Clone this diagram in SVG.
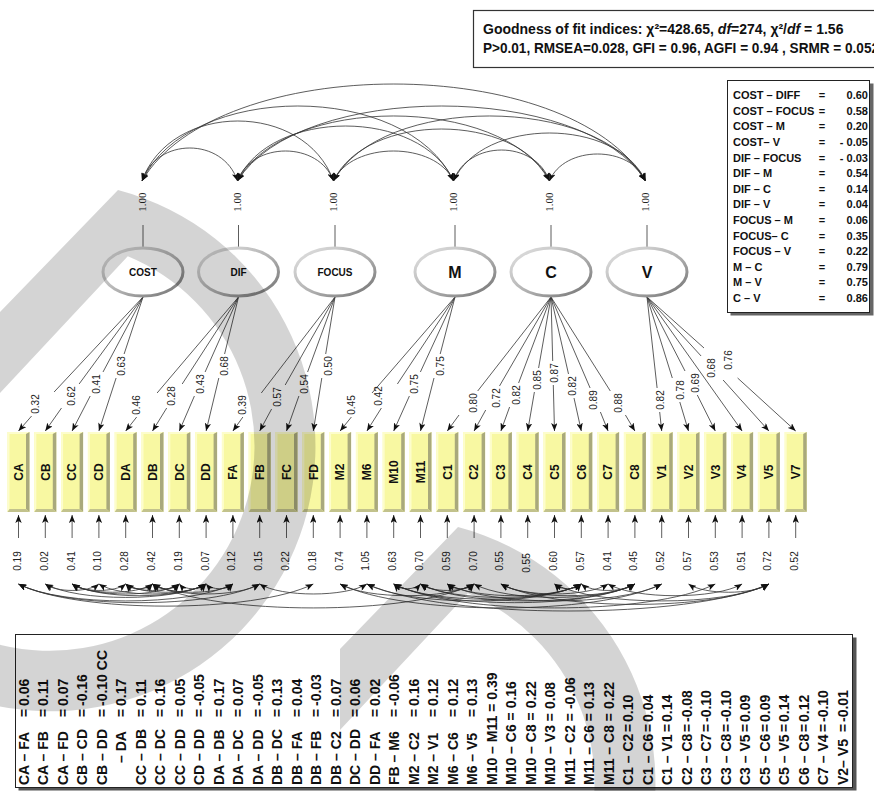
<svg xmlns="http://www.w3.org/2000/svg" xmlns:xlink="http://www.w3.org/1999/xlink" width="874" height="791" viewBox="0 0 874 791">
<style>
.ln{stroke:#333;stroke-width:0.8;fill:none}
.ar{marker-end:url(#ah)}
.dbl{marker-start:url(#ah);marker-end:url(#ah)}
.num{font-family:"Liberation Sans",Arial,sans-serif;font-size:10px;fill:#222;text-anchor:middle}
.var{font-family:"Liberation Serif","Times New Roman",serif;font-size:11px;fill:#222;text-anchor:middle}
.ell{fill:#fff;stroke:url(#eg);stroke-width:3}
.fl{font-family:"Liberation Sans",Arial,sans-serif;font-weight:bold;font-size:10px;text-anchor:middle;fill:#111}
.fl2{font-size:16px}
.bl{font-family:"Liberation Sans",Arial,sans-serif;font-weight:bold;font-size:12px;text-anchor:middle;fill:#111}
.tb{font-family:"Liberation Sans",Arial,sans-serif;font-weight:bold;font-size:11px;fill:#111}
.bt{font-family:"Liberation Sans",Arial,sans-serif;font-weight:bold;font-size:14px;fill:#111}
.gof{font-family:"Liberation Sans",Arial,sans-serif;font-weight:600;font-size:14px;fill:#111}
</style>
<defs>
<marker id="ah" viewBox="0 0 10 8" refX="10" refY="4" markerWidth="8" markerHeight="6.4" markerUnits="userSpaceOnUse" orient="auto-start-reverse">
<path d="M0,0 L10,4 L0,8 L2.5,4 z" fill="#111"/>
</marker>
<linearGradient id="eg" x1="0" y1="0" x2="1" y2="1">
<stop offset="0" stop-color="#e4e4e4"/>
<stop offset="0.55" stop-color="#b0b0b0"/>
<stop offset="1" stop-color="#707070"/>
</linearGradient>
<g id="bx">
<rect width="22" height="80" fill="#f8f8a2"/>
<polygon points="0,0 22,0 18.5,2 2,2 2,77 0,80" fill="#fdfdcc"/>
<polygon points="18.5,2 22,0 22,80 18.5,77" fill="#a9a97c"/>
<polygon points="0,80 2,77 18.5,77 22,80" fill="#c2c28c"/>
</g>
</defs>
<rect width="874" height="791" fill="#fff"/>

<g id="fit-box">
<rect x="473.5" y="10.5" width="420" height="57" fill="#fff" stroke="#333" stroke-width="1.2"/>
<text class="gof" x="483" y="34">Goodness of fit indices: χ²=428.65, <tspan font-style="italic">df</tspan>=274, χ²/<tspan font-style="italic">df</tspan> = 1.56</text>
<text class="gof" x="483" y="53" textLength="396" lengthAdjust="spacingAndGlyphs">P&gt;0.01, RMSEA=0.028, GFI = 0.96, AGFI = 0.94 , SRMR = 0.052</text>
</g>

<g id="factor-corr-table">
<rect x="730.5" y="83.5" width="143" height="232" fill="#666"/>
<rect x="727.5" y="80.5" width="142" height="232" fill="#fff" stroke="#222"/>
<text class="tb" y="99"><tspan x="733">COST – DIFF</tspan><tspan x="822" text-anchor="middle">=</tspan><tspan x="868" text-anchor="end">0.60</tspan></text>
<text class="tb" y="114.6"><tspan x="733">COST – FOCUS</tspan><tspan x="822" text-anchor="middle">=</tspan><tspan x="868" text-anchor="end">0.58</tspan></text>
<text class="tb" y="130.2"><tspan x="733">COST – M</tspan><tspan x="822" text-anchor="middle">=</tspan><tspan x="868" text-anchor="end">0.20</tspan></text>
<text class="tb" y="145.9"><tspan x="733">COST– V</tspan><tspan x="822" text-anchor="middle">=</tspan><tspan x="868" text-anchor="end">- 0.05</tspan></text>
<text class="tb" y="161.5"><tspan x="733">DIF – FOCUS</tspan><tspan x="822" text-anchor="middle">=</tspan><tspan x="868" text-anchor="end">- 0.03</tspan></text>
<text class="tb" y="177.1"><tspan x="733">DIF – M</tspan><tspan x="822" text-anchor="middle">=</tspan><tspan x="868" text-anchor="end">0.54</tspan></text>
<text class="tb" y="192.7"><tspan x="733">DIF – C</tspan><tspan x="822" text-anchor="middle">=</tspan><tspan x="868" text-anchor="end">0.14</tspan></text>
<text class="tb" y="208.3"><tspan x="733">DIF – V</tspan><tspan x="822" text-anchor="middle">=</tspan><tspan x="868" text-anchor="end">0.04</tspan></text>
<text class="tb" y="224"><tspan x="733">FOCUS – M</tspan><tspan x="822" text-anchor="middle">=</tspan><tspan x="868" text-anchor="end">0.06</tspan></text>
<text class="tb" y="239.6"><tspan x="733">FOCUS– C</tspan><tspan x="822" text-anchor="middle">=</tspan><tspan x="868" text-anchor="end">0.35</tspan></text>
<text class="tb" y="255.2"><tspan x="733">FOCUS – V</tspan><tspan x="822" text-anchor="middle">=</tspan><tspan x="868" text-anchor="end">0.22</tspan></text>
<text class="tb" y="270.8"><tspan x="733">M – C</tspan><tspan x="822" text-anchor="middle">=</tspan><tspan x="868" text-anchor="end">0.79</tspan></text>
<text class="tb" y="286.4"><tspan x="733">M – V</tspan><tspan x="822" text-anchor="middle">=</tspan><tspan x="868" text-anchor="end">0.75</tspan></text>
<text class="tb" y="302.1"><tspan x="733">C – V</tspan><tspan x="822" text-anchor="middle">=</tspan><tspan x="868" text-anchor="end">0.86</tspan></text>
</g>

<g id="connectors">
<!-- factor covariances -->
<path class="ln dbl" d="M142,181 C156.3,137 223.2,137 237.5,181"/>
<path class="ln dbl" d="M142,181 C170.7,101 304.8,101 333.5,181"/>
<path class="ln dbl" d="M142,181 C188.7,81 406.8,81 453.5,181"/>
<path class="ln dbl" d="M142,181 C217.5,51.7 570,51.7 645.5,181"/>
<path class="ln dbl" d="M237.5,181 C251.9,141 319.1,141 333.5,181"/>
<path class="ln dbl" d="M237.5,181 C269.9,107.7 421.1,107.7 453.5,181"/>
<path class="ln dbl" d="M237.5,181 C284.3,94.3 502.7,94.3 549.5,181"/>
<path class="ln dbl" d="M237.5,181 C298.7,81 584.3,81 645.5,181"/>
<path class="ln dbl" d="M333.5,181 C351.5,141 435.5,141 453.5,181"/>
<path class="ln dbl" d="M333.5,181 C365.9,111.7 517.1,111.7 549.5,181"/>
<path class="ln dbl" d="M333.5,181 C380.3,94.3 598.7,94.3 645.5,181"/>
<path class="ln dbl" d="M453.5,181 C467.9,139.7 535.1,139.7 549.5,181"/>
<path class="ln dbl" d="M453.5,181 C482.3,117 616.7,117 645.5,181"/>
<path class="ln dbl" d="M549.5,181 C563.9,145 631.1,145 645.5,181"/>
<!-- loadings -->
<path class="ln" d="M143,297 L54.1,392"/><path class="ln ar" d="M31.6,416 L18.5,431"/>
<path class="ln" d="M143,297 L79.1,384"/><path class="ln ar" d="M61.5,408 L45.3,431"/>
<path class="ln" d="M143,297 L103,372"/><path class="ln ar" d="M90.2,396 L72.1,431"/>
<path class="ln" d="M143,297 L124.1,354"/><path class="ln ar" d="M116.1,378 L98.9,431"/>
<path class="ln" d="M238.5,297 L157.1,393"/><path class="ln ar" d="M136.7,417 L125.7,431"/>
<path class="ln" d="M238.5,297 L182.2,384"/><path class="ln ar" d="M166.7,408 L152.5,431"/>
<path class="ln" d="M238.5,297 L205.1,372"/><path class="ln ar" d="M194.4,396 L179.3,431"/>
<path class="ln" d="M238.5,297 L224.6,354"/><path class="ln ar" d="M218.8,378 L206.1,431"/>
<path class="ln" d="M335,297 L261.3,393"/><path class="ln ar" d="M242.9,417 L232.9,431"/>
<path class="ln" d="M335,297 L285.2,385"/><path class="ln ar" d="M271.6,409 L259.7,431"/>
<path class="ln" d="M335,297 L307.6,372"/><path class="ln ar" d="M298.9,396 L286.5,431"/>
<path class="ln" d="M335,297 L325.7,354"/><path class="ln ar" d="M321.8,378 L313.3,431"/>
<path class="ln" d="M455,297 L372,393"/><path class="ln ar" d="M351.4,417 L340.1,431"/>
<path class="ln" d="M455,297 L397.4,384"/><path class="ln ar" d="M381.4,408 L366.9,431"/>
<path class="ln" d="M455,297 L420.4,372"/><path class="ln ar" d="M409.4,396 L393.7,431"/>
<path class="ln" d="M455,297 L440.2,354"/><path class="ln ar" d="M434,378 L420.5,431"/>
<path class="ln" d="M551,297 L477.7,391"/><path class="ln ar" d="M459,415 L447.3,431"/>
<path class="ln" d="M551,297 L499.5,386"/><path class="ln ar" d="M485.7,410 L474.1,431"/>
<path class="ln" d="M551,297 L518.6,383"/><path class="ln ar" d="M509.6,407 L500.9,431"/>
<path class="ln" d="M551,297 L538.6,368"/><path class="ln ar" d="M534.4,392 L527.7,431"/>
<path class="ln" d="M551,297 L552.7,361"/><path class="ln ar" d="M553.3,385 L554.5,431"/>
<path class="ln" d="M551,297 L568.5,374"/><path class="ln ar" d="M574,398 L581.3,431"/>
<path class="ln" d="M551,297 L590.1,388"/><path class="ln ar" d="M600.4,412 L608.1,431"/>
<path class="ln" d="M551,297 L610.3,391"/><path class="ln ar" d="M625.4,415 L634.9,431"/>
<path class="ln" d="M647,297 L657.1,388"/><path class="ln ar" d="M659.7,412 L661.7,431"/>
<path class="ln" d="M647,297 L672.3,378"/><path class="ln ar" d="M679.8,402 L688.5,431"/>
<path class="ln" d="M647,297 L685,371"/><path class="ln ar" d="M697.3,395 L715.3,431"/>
<path class="ln ar" d="M647,297 L742.1,431"/>
<path class="ln" d="M647,297 L701.1,356"/><path class="ln ar" d="M723.1,380 L768.9,431"/>
<path class="ln" d="M647,297 L704,348"/><path class="ln ar" d="M737.6,378 L795.7,431"/>
<!-- error arrows -->
<path class="ln ar" d="M18.5,538V515"/><path class="ln ar" d="M45.3,538V515"/><path class="ln ar" d="M72.1,538V515"/><path class="ln ar" d="M98.9,538V515"/>
<path class="ln ar" d="M125.7,538V515"/><path class="ln ar" d="M152.5,538V515"/><path class="ln ar" d="M179.3,538V515"/><path class="ln ar" d="M206.1,538V515"/>
<path class="ln ar" d="M232.9,538V515"/><path class="ln ar" d="M259.7,538V515"/><path class="ln ar" d="M286.5,538V515"/><path class="ln ar" d="M313.3,538V515"/>
<path class="ln ar" d="M340.1,538V515"/><path class="ln ar" d="M366.9,538V515"/><path class="ln ar" d="M393.7,538V515"/><path class="ln ar" d="M420.5,538V515"/>
<path class="ln ar" d="M447.3,538V515"/><path class="ln ar" d="M474.1,538V515"/><path class="ln ar" d="M500.9,538V515"/><path class="ln ar" d="M527.7,538V515"/>
<path class="ln ar" d="M554.5,538V515"/><path class="ln ar" d="M581.3,538V515"/><path class="ln ar" d="M608.1,538V515"/><path class="ln ar" d="M634.9,538V515"/>
<path class="ln ar" d="M661.7,538V515"/><path class="ln ar" d="M688.5,538V515"/><path class="ln ar" d="M715.3,538V515"/><path class="ln ar" d="M742.1,538V515"/>
<path class="ln ar" d="M768.9,538V515"/><path class="ln ar" d="M795.7,538V515"/>
<!-- error covariances -->
<path class="ln dbl" d="M18.5,584 C61.4,606.6 190,606.6 232.9,584"/>
<path class="ln dbl" d="M18.5,584 C66.7,608.9 211.5,608.9 259.7,584"/>
<path class="ln dbl" d="M18.5,584 C77.5,613.5 254.3,613.5 313.3,584"/>
<path class="ln dbl" d="M45.3,584 C56,592.6 88.2,592.6 98.9,584"/>
<path class="ln dbl" d="M45.3,584 C77.5,601.9 173.9,601.9 206.1,584"/>
<path class="ln dbl" d="M72.1,584 C82.8,592.6 115,592.6 125.7,584"/>
<path class="ln dbl" d="M72.1,584 C88.2,595 136.4,595 152.5,584"/>
<path class="ln dbl" d="M72.1,584 C93.5,597.3 157.9,597.3 179.3,584"/>
<path class="ln dbl" d="M72.1,584 C98.9,599.6 179.3,599.6 206.1,584"/>
<path class="ln dbl" d="M98.9,584 C120.3,597.3 184.7,597.3 206.1,584"/>
<path class="ln dbl" d="M125.7,584 C131.1,590.3 147.1,590.3 152.5,584"/>
<path class="ln dbl" d="M125.7,584 C136.4,592.6 168.6,592.6 179.3,584"/>
<path class="ln dbl" d="M125.7,584 C141.8,595 190,595 206.1,584"/>
<path class="ln dbl" d="M152.5,584 C157.9,590.3 173.9,590.3 179.3,584"/>
<path class="ln dbl" d="M152.5,584 C168.6,595 216.8,595 232.9,584"/>
<path class="ln dbl" d="M152.5,584 C173.9,597.3 238.3,597.3 259.7,584"/>
<path class="ln dbl" d="M152.5,584 C216.8,615.9 409.8,615.9 474.1,584"/>
<path class="ln dbl" d="M179.3,584 C184.7,590.3 200.7,590.3 206.1,584"/>
<path class="ln dbl" d="M206.1,584 C211.5,590.3 227.5,590.3 232.9,584"/>
<path class="ln dbl" d="M259.7,584 C281.1,597.3 345.5,597.3 366.9,584"/>
<path class="ln dbl" d="M340.1,584 C366.9,599.6 447.3,599.6 474.1,584"/>
<path class="ln dbl" d="M340.1,584 C404.4,615.9 597.4,615.9 661.7,584"/>
<path class="ln dbl" d="M366.9,584 C409.8,606.6 538.4,606.6 581.3,584"/>
<path class="ln dbl" d="M366.9,584 C447.3,620 688.5,620 768.9,584"/>
<path class="ln dbl" d="M393.7,584 C399.1,590.3 415.1,590.3 420.5,584"/>
<path class="ln dbl" d="M393.7,584 C431.2,604.3 543.8,604.3 581.3,584"/>
<path class="ln dbl" d="M393.7,584 C441.9,608.9 586.7,608.9 634.9,584"/>
<path class="ln dbl" d="M393.7,584 C458,615.9 651,615.9 715.3,584"/>
<path class="ln dbl" d="M420.5,584 C431.2,592.6 463.4,592.6 474.1,584"/>
<path class="ln dbl" d="M420.5,584 C452.7,601.9 549.1,601.9 581.3,584"/>
<path class="ln dbl" d="M420.5,584 C463.4,606.6 592,606.6 634.9,584"/>
<path class="ln dbl" d="M447.3,584 C452.7,590.3 468.7,590.3 474.1,584"/>
<path class="ln dbl" d="M447.3,584 C474.1,599.6 554.5,599.6 581.3,584"/>
<path class="ln dbl" d="M447.3,584 C490.2,606.6 618.8,606.6 661.7,584"/>
<path class="ln dbl" d="M474.1,584 C506.3,601.9 602.7,601.9 634.9,584"/>
<path class="ln dbl" d="M500.9,584 C522.3,597.3 586.7,597.3 608.1,584"/>
<path class="ln dbl" d="M500.9,584 C527.7,599.6 608.1,599.6 634.9,584"/>
<path class="ln dbl" d="M500.9,584 C554.5,611.2 715.3,611.2 768.9,584"/>
<path class="ln dbl" d="M554.5,584 C559.9,590.3 575.9,590.3 581.3,584"/>
<path class="ln dbl" d="M554.5,584 C597.4,606.6 726,606.6 768.9,584"/>
<path class="ln dbl" d="M581.3,584 C592,592.6 624.2,592.6 634.9,584"/>
<path class="ln dbl" d="M608.1,584 C634.9,599.6 715.3,599.6 742.1,584"/>
<path class="ln dbl" d="M688.5,584 C704.6,595 752.8,595 768.9,584"/>
</g>

<g id="loading-labels">
<text class="num" dy=".35em" transform="translate(35,404) rotate(-90)">0.32</text>
<text class="num" dy=".35em" transform="translate(71,396) rotate(-90)">0.62</text>
<text class="num" dy=".35em" transform="translate(96.7,384) rotate(-90)">0.41</text>
<text class="num" dy=".35em" transform="translate(121.7,366) rotate(-90)">0.63</text>
<text class="num" dy=".35em" transform="translate(136,405) rotate(-90)">0.46</text>
<text class="num" dy=".35em" transform="translate(171.7,396) rotate(-90)">0.28</text>
<text class="num" dy=".35em" transform="translate(200,384) rotate(-90)">0.43</text>
<text class="num" dy=".35em" transform="translate(224,366) rotate(-90)">0.68</text>
<text class="num" dy=".35em" transform="translate(242.7,405) rotate(-90)">0.39</text>
<text class="num" dy=".35em" transform="translate(277.3,397) rotate(-90)">0.57</text>
<text class="num" dy=".35em" transform="translate(304.3,384) rotate(-90)">0.54</text>
<text class="num" dy=".35em" transform="translate(328.3,366) rotate(-90)">0.50</text>
<text class="num" dy=".35em" transform="translate(351,405) rotate(-90)">0.45</text>
<text class="num" dy=".35em" transform="translate(378.3,396) rotate(-90)">0.42</text>
<text class="num" dy=".35em" transform="translate(414.3,384) rotate(-90)">0.75</text>
<text class="num" dy=".35em" transform="translate(440,366) rotate(-90)">0.75</text>
<text class="num" dy=".35em" transform="translate(473.3,403) rotate(-90)">0.80</text>
<text class="num" dy=".35em" transform="translate(496,398) rotate(-90)">0.72</text>
<text class="num" dy=".35em" transform="translate(516,395) rotate(-90)">0.82</text>
<text class="num" dy=".35em" transform="translate(537.7,380) rotate(-90)">0.85</text>
<text class="num" dy=".35em" transform="translate(554,373) rotate(-90)">0.87</text>
<text class="num" dy=".35em" transform="translate(572.7,386) rotate(-90)">0.82</text>
<text class="num" dy=".35em" transform="translate(593.3,400) rotate(-90)">0.89</text>
<text class="num" dy=".35em" transform="translate(618.3,403) rotate(-90)">0.88</text>
<text class="num" dy=".35em" transform="translate(660,400) rotate(-90)">0.82</text>
<text class="num" dy=".35em" transform="translate(680,390) rotate(-90)">0.78</text>
<text class="num" dy=".35em" transform="translate(695,383) rotate(-90)">0.69</text>
<text class="num" dy=".35em" transform="translate(711,368) rotate(-90)">0.68</text>
<text class="num" dy=".35em" transform="translate(728.3,360) rotate(-90)">0.76</text>
</g>

<g id="f-cost"><line class="ln" x1="143" y1="225" x2="143" y2="248"/><text class="var" dy=".35em" transform="translate(142,202) rotate(-90)">1.00</text><ellipse class="ell" cx="143" cy="272" rx="40" ry="24"/><text class="fl" x="143" y="276">COST</text></g>
<g id="f-dif"><line class="ln" x1="238.5" y1="225" x2="238.5" y2="248"/><text class="var" dy=".35em" transform="translate(237.5,202) rotate(-90)">1.00</text><ellipse class="ell" cx="238.5" cy="272" rx="40" ry="24"/><text class="fl" x="238.5" y="276">DIF</text></g>
<g id="f-focus"><line class="ln" x1="335" y1="225" x2="335" y2="248"/><text class="var" dy=".35em" transform="translate(333.5,202) rotate(-90)">1.00</text><ellipse class="ell" cx="335" cy="272" rx="40" ry="24"/><text class="fl" x="335" y="276">FOCUS</text></g>
<g id="f-m"><line class="ln" x1="455" y1="225" x2="455" y2="248"/><text class="var" dy=".35em" transform="translate(453.5,202) rotate(-90)">1.00</text><ellipse class="ell" cx="455" cy="272" rx="40" ry="24"/><text class="fl fl2" x="455" y="278">M</text></g>
<g id="f-c"><line class="ln" x1="551" y1="225" x2="551" y2="248"/><text class="var" dy=".35em" transform="translate(549.5,202) rotate(-90)">1.00</text><ellipse class="ell" cx="551" cy="272" rx="40" ry="24"/><text class="fl fl2" x="551" y="278">C</text></g>
<g id="f-v"><line class="ln" x1="647" y1="225" x2="647" y2="248"/><text class="var" dy=".35em" transform="translate(645.5,202) rotate(-90)">1.00</text><ellipse class="ell" cx="647" cy="272" rx="40" ry="24"/><text class="fl fl2" x="647" y="278">V</text></g>

<g id="n-CA"><use xlink:href="#bx" x="7.5" y="432"/><text class="bl" dy=".35em" transform="translate(18.5,472) rotate(-90)">CA</text><text class="num" dy=".35em" transform="translate(17.5,561) rotate(-90)">0.19</text></g>
<g id="n-CB"><use xlink:href="#bx" x="34.3" y="432"/><text class="bl" dy=".35em" transform="translate(45.3,472) rotate(-90)">CB</text><text class="num" dy=".35em" transform="translate(44.3,561) rotate(-90)">0.02</text></g>
<g id="n-CC"><use xlink:href="#bx" x="61.1" y="432"/><text class="bl" dy=".35em" transform="translate(72.1,472) rotate(-90)">CC</text><text class="num" dy=".35em" transform="translate(71.1,561) rotate(-90)">0.41</text></g>
<g id="n-CD"><use xlink:href="#bx" x="87.9" y="432"/><text class="bl" dy=".35em" transform="translate(98.9,472) rotate(-90)">CD</text><text class="num" dy=".35em" transform="translate(97.9,561) rotate(-90)">0.10</text></g>
<g id="n-DA"><use xlink:href="#bx" x="114.7" y="432"/><text class="bl" dy=".35em" transform="translate(125.7,472) rotate(-90)">DA</text><text class="num" dy=".35em" transform="translate(124.7,561) rotate(-90)">0.28</text></g>
<g id="n-DB"><use xlink:href="#bx" x="141.5" y="432"/><text class="bl" dy=".35em" transform="translate(152.5,472) rotate(-90)">DB</text><text class="num" dy=".35em" transform="translate(151.5,561) rotate(-90)">0.42</text></g>
<g id="n-DC"><use xlink:href="#bx" x="168.3" y="432"/><text class="bl" dy=".35em" transform="translate(179.3,472) rotate(-90)">DC</text><text class="num" dy=".35em" transform="translate(178.3,561) rotate(-90)">0.19</text></g>
<g id="n-DD"><use xlink:href="#bx" x="195.1" y="432"/><text class="bl" dy=".35em" transform="translate(206.1,472) rotate(-90)">DD</text><text class="num" dy=".35em" transform="translate(205.1,561) rotate(-90)">0.07</text></g>
<g id="n-FA"><use xlink:href="#bx" x="221.9" y="432"/><text class="bl" dy=".35em" transform="translate(232.9,472) rotate(-90)">FA</text><text class="num" dy=".35em" transform="translate(231.9,561) rotate(-90)">0.12</text></g>
<g id="n-FB"><use xlink:href="#bx" x="248.7" y="432"/><text class="bl" dy=".35em" transform="translate(259.7,472) rotate(-90)">FB</text><text class="num" dy=".35em" transform="translate(258.7,561) rotate(-90)">0.15</text></g>
<g id="n-FC"><use xlink:href="#bx" x="275.5" y="432"/><text class="bl" dy=".35em" transform="translate(286.5,472) rotate(-90)">FC</text><text class="num" dy=".35em" transform="translate(285.5,561) rotate(-90)">0.22</text></g>
<g id="n-FD"><use xlink:href="#bx" x="302.3" y="432"/><text class="bl" dy=".35em" transform="translate(313.3,472) rotate(-90)">FD</text><text class="num" dy=".35em" transform="translate(312.3,561) rotate(-90)">0.18</text></g>
<g id="n-M2"><use xlink:href="#bx" x="329.1" y="432"/><text class="bl" dy=".35em" transform="translate(340.1,472) rotate(-90)">M2</text><text class="num" dy=".35em" transform="translate(339.1,561) rotate(-90)">0.74</text></g>
<g id="n-M6"><use xlink:href="#bx" x="355.9" y="432"/><text class="bl" dy=".35em" transform="translate(366.9,472) rotate(-90)">M6</text><text class="num" dy=".35em" transform="translate(365.9,561) rotate(-90)">1.05</text></g>
<g id="n-M10"><use xlink:href="#bx" x="382.7" y="432"/><text class="bl" dy=".35em" transform="translate(393.7,472) rotate(-90)">M10</text><text class="num" dy=".35em" transform="translate(392.7,561) rotate(-90)">0.63</text></g>
<g id="n-M11"><use xlink:href="#bx" x="409.5" y="432"/><text class="bl" dy=".35em" transform="translate(420.5,472) rotate(-90)">M11</text><text class="num" dy=".35em" transform="translate(419.5,561) rotate(-90)">0.70</text></g>
<g id="n-C1"><use xlink:href="#bx" x="436.3" y="432"/><text class="bl" dy=".35em" transform="translate(447.3,472) rotate(-90)">C1</text><text class="num" dy=".35em" transform="translate(446.3,561) rotate(-90)">0.59</text></g>
<g id="n-C2"><use xlink:href="#bx" x="463.1" y="432"/><text class="bl" dy=".35em" transform="translate(474.1,472) rotate(-90)">C2</text><text class="num" dy=".35em" transform="translate(473.1,561) rotate(-90)">0.70</text></g>
<g id="n-C3"><use xlink:href="#bx" x="489.9" y="432"/><text class="bl" dy=".35em" transform="translate(500.9,472) rotate(-90)">C3</text><text class="num" dy=".35em" transform="translate(499.9,561) rotate(-90)">0.55</text></g>
<g id="n-C4"><use xlink:href="#bx" x="516.7" y="432"/><text class="bl" dy=".35em" transform="translate(527.7,472) rotate(-90)">C4</text><text class="num" dy=".35em" transform="translate(526.7,563) rotate(-90)">0.55</text></g>
<g id="n-C5"><use xlink:href="#bx" x="543.5" y="432"/><text class="bl" dy=".35em" transform="translate(554.5,472) rotate(-90)">C5</text><text class="num" dy=".35em" transform="translate(553.5,561) rotate(-90)">0.60</text></g>
<g id="n-C6"><use xlink:href="#bx" x="570.3" y="432"/><text class="bl" dy=".35em" transform="translate(581.3,472) rotate(-90)">C6</text><text class="num" dy=".35em" transform="translate(580.3,561) rotate(-90)">0.57</text></g>
<g id="n-C7"><use xlink:href="#bx" x="597.1" y="432"/><text class="bl" dy=".35em" transform="translate(608.1,472) rotate(-90)">C7</text><text class="num" dy=".35em" transform="translate(607.1,561) rotate(-90)">0.41</text></g>
<g id="n-C8"><use xlink:href="#bx" x="623.9" y="432"/><text class="bl" dy=".35em" transform="translate(634.9,472) rotate(-90)">C8</text><text class="num" dy=".35em" transform="translate(633.9,561) rotate(-90)">0.45</text></g>
<g id="n-V1"><use xlink:href="#bx" x="650.7" y="432"/><text class="bl" dy=".35em" transform="translate(661.7,472) rotate(-90)">V1</text><text class="num" dy=".35em" transform="translate(660.7,561) rotate(-90)">0.52</text></g>
<g id="n-V2"><use xlink:href="#bx" x="677.5" y="432"/><text class="bl" dy=".35em" transform="translate(688.5,472) rotate(-90)">V2</text><text class="num" dy=".35em" transform="translate(687.5,561) rotate(-90)">0.57</text></g>
<g id="n-V3"><use xlink:href="#bx" x="704.3" y="432"/><text class="bl" dy=".35em" transform="translate(715.3,472) rotate(-90)">V3</text><text class="num" dy=".35em" transform="translate(714.3,561) rotate(-90)">0.53</text></g>
<g id="n-V4"><use xlink:href="#bx" x="731.1" y="432"/><text class="bl" dy=".35em" transform="translate(742.1,472) rotate(-90)">V4</text><text class="num" dy=".35em" transform="translate(741.1,561) rotate(-90)">0.51</text></g>
<g id="n-V5"><use xlink:href="#bx" x="757.9" y="432"/><text class="bl" dy=".35em" transform="translate(768.9,472) rotate(-90)">V5</text><text class="num" dy=".35em" transform="translate(767.9,561) rotate(-90)">0.72</text></g>
<g id="n-V7"><use xlink:href="#bx" x="784.7" y="432"/><text class="bl" dy=".35em" transform="translate(795.7,472) rotate(-90)">V7</text><text class="num" dy=".35em" transform="translate(794.7,561) rotate(-90)">0.52</text></g>

<g id="error-cov-table">
<rect x="18.5" y="637.5" width="838" height="153" fill="#555"/>
<rect x="15.5" y="634.5" width="837" height="153" fill="#fff" stroke="#222"/>
<g class="bt">
<text dy=".35em" transform="translate(24,785) rotate(-90)"><tspan x="0">CA – FA</tspan><tspan x="72" text-anchor="middle">=</tspan><tspan x="79">0.06</tspan></text>
<text dy=".35em" transform="translate(43.5,785) rotate(-90)"><tspan x="0">CA – FB</tspan><tspan x="72" text-anchor="middle">=</tspan><tspan x="79">0.11</tspan></text>
<text dy=".35em" transform="translate(63,785) rotate(-90)"><tspan x="0">CA – FD</tspan><tspan x="72" text-anchor="middle">=</tspan><tspan x="79">0.07</tspan></text>
<text dy=".35em" transform="translate(82.5,785) rotate(-90)"><tspan x="0">CB – CD</tspan><tspan x="72" text-anchor="middle">=</tspan><tspan x="79">-0.16</tspan></text>
<text dy=".35em" transform="translate(102,785) rotate(-90)"><tspan x="0">CB – DD</tspan><tspan x="72" text-anchor="middle">=</tspan><tspan x="79">-0.10 CC</tspan></text>
<text dy=".35em" transform="translate(121.5,785) rotate(-90)"><tspan x="22">– DA</tspan><tspan x="72" text-anchor="middle">=</tspan><tspan x="79">0.17</tspan></text>
<text dy=".35em" transform="translate(141,785) rotate(-90)"><tspan x="0">CC – DB</tspan><tspan x="72" text-anchor="middle">=</tspan><tspan x="79">0.11</tspan></text>
<text dy=".35em" transform="translate(160.5,785) rotate(-90)"><tspan x="0">CC – DC</tspan><tspan x="72" text-anchor="middle">=</tspan><tspan x="79">0.16</tspan></text>
<text dy=".35em" transform="translate(180,785) rotate(-90)"><tspan x="0">CC – DD</tspan><tspan x="72" text-anchor="middle">=</tspan><tspan x="79">0.05</tspan></text>
<text dy=".35em" transform="translate(199.5,785) rotate(-90)"><tspan x="0">CD – DD</tspan><tspan x="72" text-anchor="middle">=</tspan><tspan x="79">-0.05</tspan></text>
<text dy=".35em" transform="translate(219,785) rotate(-90)"><tspan x="0">DA – DB</tspan><tspan x="72" text-anchor="middle">=</tspan><tspan x="79">0.17</tspan></text>
<text dy=".35em" transform="translate(238.5,785) rotate(-90)"><tspan x="0">DA – DC</tspan><tspan x="72" text-anchor="middle">=</tspan><tspan x="79">0.07</tspan></text>
<text dy=".35em" transform="translate(258,785) rotate(-90)"><tspan x="0">DA – DD</tspan><tspan x="72" text-anchor="middle">=</tspan><tspan x="79">-0.05</tspan></text>
<text dy=".35em" transform="translate(277.5,785) rotate(-90)"><tspan x="0">DB – DC</tspan><tspan x="72" text-anchor="middle">=</tspan><tspan x="79">0.13</tspan></text>
<text dy=".35em" transform="translate(297,785) rotate(-90)"><tspan x="0">DB – FA</tspan><tspan x="72" text-anchor="middle">=</tspan><tspan x="79">0.04</tspan></text>
<text dy=".35em" transform="translate(316.5,785) rotate(-90)"><tspan x="0">DB – FB</tspan><tspan x="72" text-anchor="middle">=</tspan><tspan x="79">-0.03</tspan></text>
<text dy=".35em" transform="translate(336,785) rotate(-90)"><tspan x="0">DB – C2</tspan><tspan x="72" text-anchor="middle">=</tspan><tspan x="79">0.07</tspan></text>
<text dy=".35em" transform="translate(355.5,785) rotate(-90)"><tspan x="0">DC – DD</tspan><tspan x="72" text-anchor="middle">=</tspan><tspan x="79">0.06</tspan></text>
<text dy=".35em" transform="translate(375,785) rotate(-90)"><tspan x="0">DD – FA</tspan><tspan x="72" text-anchor="middle">=</tspan><tspan x="79">0.02</tspan></text>
<text dy=".35em" transform="translate(394.5,785) rotate(-90)"><tspan x="0">FB – M6</tspan><tspan x="72" text-anchor="middle">=</tspan><tspan x="79">-0.06</tspan></text>
<text dy=".35em" transform="translate(414,785) rotate(-90)"><tspan x="0">M2 – C2</tspan><tspan x="72" text-anchor="middle">=</tspan><tspan x="79">0.16</tspan></text>
<text dy=".35em" transform="translate(433.5,785) rotate(-90)"><tspan x="0">M2 – V1</tspan><tspan x="72" text-anchor="middle">=</tspan><tspan x="79">0.12</tspan></text>
<text dy=".35em" transform="translate(453,785) rotate(-90)"><tspan x="0">M6 – C6</tspan><tspan x="72" text-anchor="middle">=</tspan><tspan x="79">0.12</tspan></text>
<text dy=".35em" transform="translate(472.5,785) rotate(-90)"><tspan x="0">M6 – V5</tspan><tspan x="72" text-anchor="middle">=</tspan><tspan x="79">0.13</tspan></text>
<text dy=".35em" transform="translate(492,785) rotate(-90)">M10 – M11 = 0.39</text>
<text dy=".35em" transform="translate(511.5,785) rotate(-90)">M10 – C6 = 0.16</text>
<text dy=".35em" transform="translate(531,785) rotate(-90)">M10 – C8 = 0.22</text>
<text dy=".35em" transform="translate(550.5,785) rotate(-90)">M10 – V3 = 0.08</text>
<text dy=".35em" transform="translate(570,785) rotate(-90)">M11 – C2 = -0.06</text>
<text dy=".35em" transform="translate(589.5,785) rotate(-90)">M11 – C6 = 0.13</text>
<text dy=".35em" transform="translate(609,785) rotate(-90)">M11 – C8 = 0.22</text>
<text dy=".35em" transform="translate(628.5,785) rotate(-90)"><tspan x="0">C1 – C2</tspan><tspan x="57" text-anchor="middle">=</tspan><tspan x="63">0.10</tspan></text>
<text dy=".35em" transform="translate(648,785) rotate(-90)"><tspan x="0">C1 – C6</tspan><tspan x="57" text-anchor="middle">=</tspan><tspan x="63">0.04</tspan></text>
<text dy=".35em" transform="translate(667.5,785) rotate(-90)"><tspan x="0">C1 – V1</tspan><tspan x="57" text-anchor="middle">=</tspan><tspan x="63">0.14</tspan></text>
<text dy=".35em" transform="translate(687,785) rotate(-90)"><tspan x="0">C2 – C8</tspan><tspan x="57" text-anchor="middle">=</tspan><tspan x="63">-0.08</tspan></text>
<text dy=".35em" transform="translate(706.5,785) rotate(-90)"><tspan x="0">C3 – C7</tspan><tspan x="57" text-anchor="middle">=</tspan><tspan x="63">-0.10</tspan></text>
<text dy=".35em" transform="translate(726,785) rotate(-90)"><tspan x="0">C3 – C8</tspan><tspan x="57" text-anchor="middle">=</tspan><tspan x="63">-0.10</tspan></text>
<text dy=".35em" transform="translate(745.5,785) rotate(-90)"><tspan x="0">C3 – V5</tspan><tspan x="57" text-anchor="middle">=</tspan><tspan x="63">0.09</tspan></text>
<text dy=".35em" transform="translate(765,785) rotate(-90)"><tspan x="0">C5 – C6</tspan><tspan x="57" text-anchor="middle">=</tspan><tspan x="63">0.09</tspan></text>
<text dy=".35em" transform="translate(784.5,785) rotate(-90)"><tspan x="0">C5 – V5</tspan><tspan x="57" text-anchor="middle">=</tspan><tspan x="63">0.14</tspan></text>
<text dy=".35em" transform="translate(804,785) rotate(-90)"><tspan x="0">C6 – C8</tspan><tspan x="57" text-anchor="middle">=</tspan><tspan x="63">0.12</tspan></text>
<text dy=".35em" transform="translate(823.5,785) rotate(-90)"><tspan x="0">C7 – V4</tspan><tspan x="57" text-anchor="middle">=</tspan><tspan x="63">-0.10</tspan></text>
<text dy=".35em" transform="translate(843,785) rotate(-90)"><tspan x="0">V2– V5</tspan><tspan x="57" text-anchor="middle">=</tspan><tspan x="63">-0.01</tspan></text>
</g>
</g>

<g id="watermark" fill="#000" fill-opacity="0.17">
<path d="M0,312 L118,190 A265,265 0 1 1 -62,686.2 L-36.6,631.8 A205,205 0 1 0 127.8,256.3 L0,393 Z"/>
<path transform="translate(340,337)" d="M0,312 L118,190 A265,265 0 1 1 -62,686.2 L-36.6,631.8 A205,205 0 1 0 127.8,256.3 L0,393 Z"/>
</g>
</svg>
